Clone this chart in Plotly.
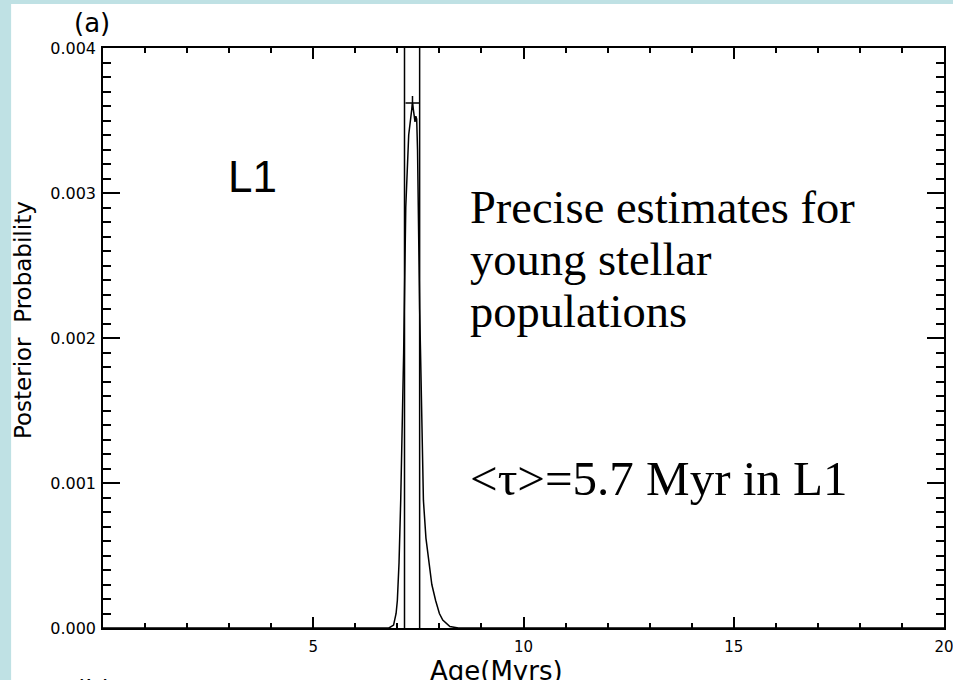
import plotly.graph_objects as go

# ---- data ----
age_myr = [0.0, 6.80, 6.91, 6.97, 7.00, 7.04, 7.08, 7.12, 7.15, 7.20, 7.27, 7.36,
           7.42, 7.44, 7.46, 7.48, 7.50, 7.53, 7.55, 7.57, 7.59, 7.62, 7.68, 7.74,
           7.82, 7.91, 8.00, 8.08, 8.25, 8.45, 20.0]
posterior = [0.0, 0.0, 0.00002, 0.0001, 0.00019, 0.00045, 0.00088, 0.0014, 0.0019,
             0.0029, 0.0034, 0.00362, 0.00349, 0.00353, 0.00351, 0.0033, 0.0027,
             0.0022, 0.00192, 0.00157, 0.00123, 0.00088, 0.00062, 0.00047, 0.0003,
             0.00019, 0.0001, 0.000055, 0.00001, 0.0, 0.0]
interval_bounds = [7.17, 7.53]
peak_age = [7.36]
peak_prob = [0.00362]

x_tickvals = [5, 10, 15, 20]
x_ticktext = ["5", "10", "15", "20"]
y_tickvals = [0.0, 0.001, 0.002, 0.003, 0.004]
y_ticktext = ["0.000", "0.001", "0.002", "0.003", "0.004"]

# reference-picture geometry (pixels) and capture width compensation
W, H = 953, 680
L, R, T, B = 102, 944, 48, 628
SX = 1.0106
FW = round(W * SX)
ML = round(L * SX)
MR = FW - round(R * SX)


def px(x):
    return (x - L) / (R - L)


def py(y):
    return (B - y) / (B - T)


fig = go.Figure()

fig.add_trace(go.Scatter(x=age_myr, y=posterior, mode="lines",
                         line=dict(color="black", width=1.5), showlegend=False,
                         hoverinfo="skip"))
for xb in interval_bounds:
    fig.add_trace(go.Scatter(x=[xb, xb], y=[0, 0.004], mode="lines",
                             line=dict(color="black", width=1.5), showlegend=False,
                             hoverinfo="skip"))
fig.add_trace(go.Scatter(x=peak_age, y=peak_prob, mode="markers",
                         marker=dict(symbol="cross-thin", size=10,
                                     line=dict(color="black", width=1.5)),
                         showlegend=False, hoverinfo="skip"))

axis_common = dict(showline=True, linecolor="black", linewidth=1.5, mirror="allticks",
                   ticks="inside", tickcolor="black", tickwidth=1.5,
                   showgrid=False, zeroline=False)

fig.update_xaxes(range=[0, 20], tickmode="array", tickvals=x_tickvals,
                 ticktext=x_ticktext, ticklen=11, ticklabelstandoff=4,
                 tickfont=dict(family="DejaVu Sans", size=15, color="black"),
                 minor=dict(tickmode="linear", tick0=0, dtick=1, ticklen=5,
                            ticks="inside", tickcolor="black", tickwidth=1.5),
                 **axis_common)
fig.update_yaxes(range=[0, 0.004], tickmode="array", tickvals=y_tickvals,
                 ticktext=y_ticktext, ticklen=17, ticklabelstandoff=2,
                 tickfont=dict(family="DejaVu Sans", size=16, color="black"),
                 minor=dict(tickmode="linear", tick0=0, dtick=0.0001, ticklen=8,
                            ticks="inside", tickcolor="black", tickwidth=1.5),
                 **axis_common)

blue = "#bfe1e4"
shapes = [
    dict(type="rect", xref="paper", yref="paper", x0=px(-2), x1=px(10), y0=py(H + 2),
         y1=py(-2), fillcolor=blue, line=dict(width=0), layer="below"),
    dict(type="rect", xref="paper", yref="paper", x0=px(-2), x1=px(W + 12), y0=py(4),
         y1=py(-2), fillcolor=blue, line=dict(width=0), layer="below"),
]

serif_face = "Liberation Serif, Times New Roman, serif"
serif = dict(family=serif_face, size=46.5, color="black")
serif_big = dict(family=serif_face, size=49, color="black")
sans = "Liberation Sans, Arial, sans-serif"
dv = "DejaVu Sans, Verdana, sans-serif"


def ann(text, x, y, font, xanchor="left", yanchor="middle", angle=0):
    return dict(text=text, x=px(x), y=py(y), xref="paper", yref="paper",
                xanchor=xanchor, yanchor=yanchor, showarrow=False, font=font,
                textangle=angle)


annotations = [
    ann("L1", 252, 177, dict(family=sans, size=44, color="black"), xanchor="center"),
    ann("Precise estimates for", 467, 207, serif),
    ann("young stellar", 467, 259, serif),
    ann("populations", 467, 311, serif),
    ann("&lt;τ&gt;=5.7 Myr in L1", 467, 478, serif_big),
    ann("(a)", 91, 23, dict(family=dv, size=26, color="black"), xanchor="center"),
    ann("(b)", 92, 673, dict(family=dv, size=26, color="black"), xanchor="center",
        yanchor="top"),
    ann("Age(Myrs)", 496, 654, dict(family=dv, size=26, color="black"), xanchor="center",
        yanchor="top"),
    ann("Posterior  Probability", 22, 320, dict(family=dv, size=23, color="black"),
        xanchor="center", angle=-90),
]

fig.update_layout(width=FW, height=H, autosize=False,
                  margin=dict(l=ML, r=MR, t=T, b=H - B, pad=0),
                  paper_bgcolor="white", plot_bgcolor="white",
                  shapes=shapes, annotations=annotations, showlegend=False)

post = (
    "document.documentElement.style.margin='0';"
    "document.documentElement.style.padding='0';"
    "document.body.style.margin='0'; document.body.style.padding='0';"
)

fig.write_html("out.html", config={"displayModeBar": False}, post_script=post)
